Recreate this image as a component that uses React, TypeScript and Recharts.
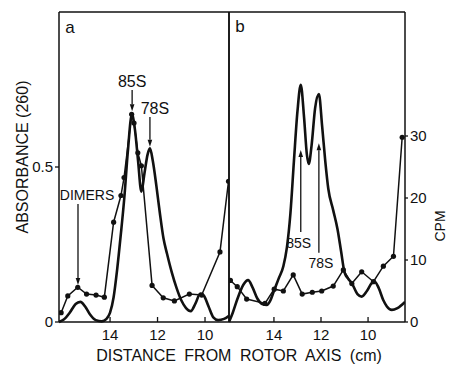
import { LineChart, Line, XAxis, YAxis, ReferenceLine } from "recharts";

const FONT = '"Liberation Sans", Arial, sans-serif';
const INK = "#111";

const ticksX = [14, 12, 10];
const absTicks = [0, 0.5];
const cpmTicks = [0, 10, 20, 30];

// panel a: absorbance trace (smooth) and counts (dots)
const distAbsA = [16.15, 15.95, 15.7, 15.45, 15.25, 15.05, 14.85, 14.6, 14.35, 14.15, 14.0, 13.85, 13.7, 13.55, 13.4, 13.25, 13.08, 12.95, 12.82, 12.68, 12.55, 12.42, 12.32, 12.2, 12.05, 11.9, 11.75, 11.6, 11.4, 11.2, 11.0, 10.8, 10.6, 10.4, 10.2, 10.05, 9.85, 9.65, 9.45, 9.2, 8.99];
const absA = [0.0, 0.008, 0.03, 0.058, 0.065, 0.05, 0.025, 0.006, 0.002, 0.01, 0.03, 0.08, 0.17, 0.28, 0.4, 0.55, 0.67, 0.62, 0.52, 0.42, 0.48, 0.54, 0.56, 0.52, 0.44, 0.35, 0.27, 0.22, 0.16, 0.11, 0.07, 0.045, 0.035, 0.06, 0.092, 0.085, 0.05, 0.015, 0.006, 0.01, 0.02];
const distCpmA = [16.06, 15.78, 15.36, 14.99, 14.59, 14.24, 13.85, 13.54, 13.41, 13.09, 12.99, 12.83, 12.68, 12.23, 11.76, 11.29, 10.66, 10.14, 9.37, 9.01];
const cpmA = [1.5, 4.2, 5.6, 4.5, 4.35, 4.0, 16.1, 20.4, 23.3, 33.5, 32.1, 27.3, 25.2, 5.9, 3.9, 3.4, 4.5, 4.35, 11.3, 22.7];

// panel b
const distAbsB = [15.91, 15.75, 15.55, 15.3, 15.1, 14.9, 14.7, 14.5, 14.3, 14.15, 14.0, 13.8, 13.6, 13.45, 13.3, 13.15, 13.0, 12.86, 12.72, 12.6, 12.52, 12.4, 12.25, 12.09, 11.95, 11.82, 11.69, 11.48, 11.3, 11.15, 11.0, 10.85, 10.69, 10.45, 10.27, 10.05, 9.85, 9.72, 9.55, 9.35, 9.2, 8.99, 8.75, 8.43];
const absB = [0.0, 0.03, 0.075, 0.12, 0.135, 0.11, 0.075, 0.058, 0.055, 0.07, 0.1, 0.14, 0.18, 0.24, 0.35, 0.52, 0.68, 0.765, 0.66, 0.54, 0.51, 0.57, 0.69, 0.735, 0.63, 0.52, 0.43, 0.36, 0.3, 0.23, 0.16, 0.14, 0.125, 0.09, 0.082, 0.1, 0.125, 0.13, 0.11, 0.07, 0.05, 0.039, 0.045, 0.065];
const distCpmB = [15.85, 15.56, 15.16, 14.38, 13.99, 13.6, 13.18, 12.8, 12.37, 11.97, 11.48, 11.05, 10.69, 10.27, 9.77, 9.35, 8.92, 8.55];
const cpmB = [6.7, 5.7, 3.7, 3.0, 5.3, 5.0, 7.6, 4.5, 4.8, 5.0, 5.8, 8.4, 6.2, 8.1, 6.5, 9.0, 10.6, 29.8];

// peak labels (arrow from -> to, in absorbance units)
const notesA = [
  { text: "85S", x: 13.07, from: 0.748, to: 0.68, dx: 0, dy: -3, size: 16 },
  { text: "78S", x: 12.32, from: 0.661, to: 0.565, dx: 5, dy: -3, size: 16 },
  { text: "DIMERS", x: 15.35, from: 0.381, to: 0.119, dx: 9, dy: -4, size: 14 },
];
const notesB = [
  { text: "85S", x: 12.86, from: 0.29, to: 0.555, dx: -2, dy: 16, size: 14 },
  { text: "78S", x: 12.09, from: 0.223, to: 0.577, dx: 2, dy: 15, size: 14 },
];

const zip = (xs: number[], ys: number[]) => xs.map((d, i) => ({ d, v: ys[i] }));

const axisStyle = { stroke: INK, strokeWidth: 1.5 };
const tickLineStyle = { stroke: INK, strokeWidth: 1.3 };
const tickText = { fill: INK, fontSize: 15, fontFamily: FONT };

const XTick = (p: any) => {
  const { x, y, payload } = p;
  return (
    <g>
      <line x1={x} x2={x} y1={y - 9} y2={y - 14} stroke={INK} strokeWidth={1.3} />
      <text x={x} y={y + 9} textAnchor="middle" fontSize={15} fontFamily={FONT} fill={INK}>
        {payload.value}
      </text>
    </g>
  );
};

const arrow = (n: any) => (p: any) => {
  const { x1, y1, x2, y2 } = p;
  const dir = y2 > y1 ? 1 : -1;
  const h = 7;
  const w = 2.3;
  return (
    <g>
      <line x1={x1} y1={y1} x2={x2} y2={y2 - dir * h} stroke={INK} strokeWidth={1.3} />
      <polygon points={`${x2},${y2} ${x2 - w},${y2 - dir * h} ${x2 + w},${y2 - dir * h}`} fill={INK} />
      <text x={x1 + n.dx} y={y1 + n.dy} textAnchor="middle" fontSize={n.size} fontFamily={FONT} fill={INK}>
        {n.text}
      </text>
    </g>
  );
};

const Label = ({ text, x, y, size, rotate }: any) => (
  <div
    style={{
      position: "absolute",
      left: x,
      top: y,
      transform: `translate(-50%, -50%)${rotate ? " rotate(-90deg)" : ""}`,
      whiteSpace: "nowrap",
      fontFamily: FONT,
      fontSize: size,
      color: INK,
      lineHeight: 1,
      wordSpacing: rotate ? 0 : 4,
    }}
  >
    {text}
  </div>
);

export default function App() {
  const domA = [8.99, 16.15];
  const domB = [8.43, 15.91];
  return (
    <div style={{ position: "absolute", left: 0, top: 0, width: 455, height: 368, background: "#fff", overflow: "hidden" }}>
      <div style={{ position: "absolute", left: 0, top: 0 }}>
        <LineChart width={233} height={368} margin={{ top: 12, right: 4, bottom: 16, left: 0 }}>
          <XAxis xAxisId="x" type="number" dataKey="d" domain={domA} reversed allowDataOverflow ticks={ticksX} interval={0}
            tick={<XTick />} tickLine={false} tickSize={0} tickMargin={9} height={30} axisLine={axisStyle} />
          <XAxis xAxisId="top" orientation="top" type="number" dataKey="d" domain={domA} reversed allowDataOverflow mirror
            tick={false} tickLine={false} axisLine={axisStyle} height={10} />
          <YAxis yAxisId="abs" type="number" domain={[0, 1]} ticks={absTicks} interval={0} width={59} tickSize={4} tickMargin={2}
            tick={tickText} tickLine={tickLineStyle} axisLine={axisStyle} />
          <YAxis yAxisId="cpm" orientation="right" type="number" domain={[0, 50]} ticks={[10, 20, 30]} interval={0} mirror width={10}
            tick={false} tickSize={4} tickLine={tickLineStyle} axisLine={axisStyle} />
          <Line xAxisId="x" yAxisId="abs" data={zip(distAbsA, absA)} dataKey="v" type="monotone" dot={false}
            stroke={INK} strokeWidth={2.6} isAnimationActive={false} />
          <Line xAxisId="x" yAxisId="cpm" data={zip(distCpmA, cpmA)} dataKey="v" type="linear"
            dot={{ r: 2.6, fill: INK, stroke: INK, strokeWidth: 0 }} stroke={INK} strokeWidth={1.5} isAnimationActive={false} />
          {notesA.map((n) => (
            <ReferenceLine key={n.text} xAxisId="x" yAxisId="abs" segment={[{ x: n.x, y: n.from }, { x: n.x, y: n.to }]} shape={arrow(n)} />
          ))}
        </LineChart>
      </div>
      <div style={{ position: "absolute", left: 225, top: 0 }}>
        <LineChart width={230} height={368} margin={{ top: 12, right: 0, bottom: 16, left: 4 }}>
          <XAxis xAxisId="x" type="number" dataKey="d" domain={domB} reversed allowDataOverflow ticks={ticksX} interval={0}
            tick={<XTick />} tickLine={false} tickSize={0} tickMargin={9} height={30} axisLine={axisStyle} />
          <XAxis xAxisId="top" orientation="top" type="number" dataKey="d" domain={domB} reversed allowDataOverflow mirror
            ticks={ticksX} interval={0} tick={false} tickSize={4} tickLine={tickLineStyle} axisLine={axisStyle} height={10} />
          <YAxis yAxisId="abs" type="number" domain={[0, 1]} ticks={[0.5]} interval={0} mirror width={10}
            tick={false} tickSize={4} tickLine={tickLineStyle} axisLine={axisStyle} />
          <YAxis yAxisId="cpm" orientation="right" type="number" domain={[0, 50]} ticks={cpmTicks} interval={0} width={50}
            tickSize={3} tickMargin={2} tick={{ ...tickText, textAnchor: "start" }} tickLine={tickLineStyle} axisLine={axisStyle} />
          <Line xAxisId="x" yAxisId="abs" data={zip(distAbsB, absB)} dataKey="v" type="monotone" dot={false}
            stroke={INK} strokeWidth={2.6} isAnimationActive={false} />
          <Line xAxisId="x" yAxisId="cpm" data={zip(distCpmB, cpmB)} dataKey="v" type="linear"
            dot={{ r: 2.6, fill: INK, stroke: INK, strokeWidth: 0 }} stroke={INK} strokeWidth={1.5} isAnimationActive={false} />
          {notesB.map((n) => (
            <ReferenceLine key={n.text} xAxisId="x" yAxisId="abs" segment={[{ x: n.x, y: n.from }, { x: n.x, y: n.to }]} shape={arrow(n)} />
          ))}
        </LineChart>
      </div>
      <Label text="ABSORBANCE (260)" x={23} y={157} size={16} rotate />
      <Label text="CPM" x={440} y={226} size={14} rotate />
      <Label text="DISTANCE FROM ROTOR AXIS (cm)" x={239} y={356} size={16} />
      <Label text="a" x={70} y={27} size={17} />
      <Label text="b" x={240} y={26} size={17} />
    </div>
  );
}
